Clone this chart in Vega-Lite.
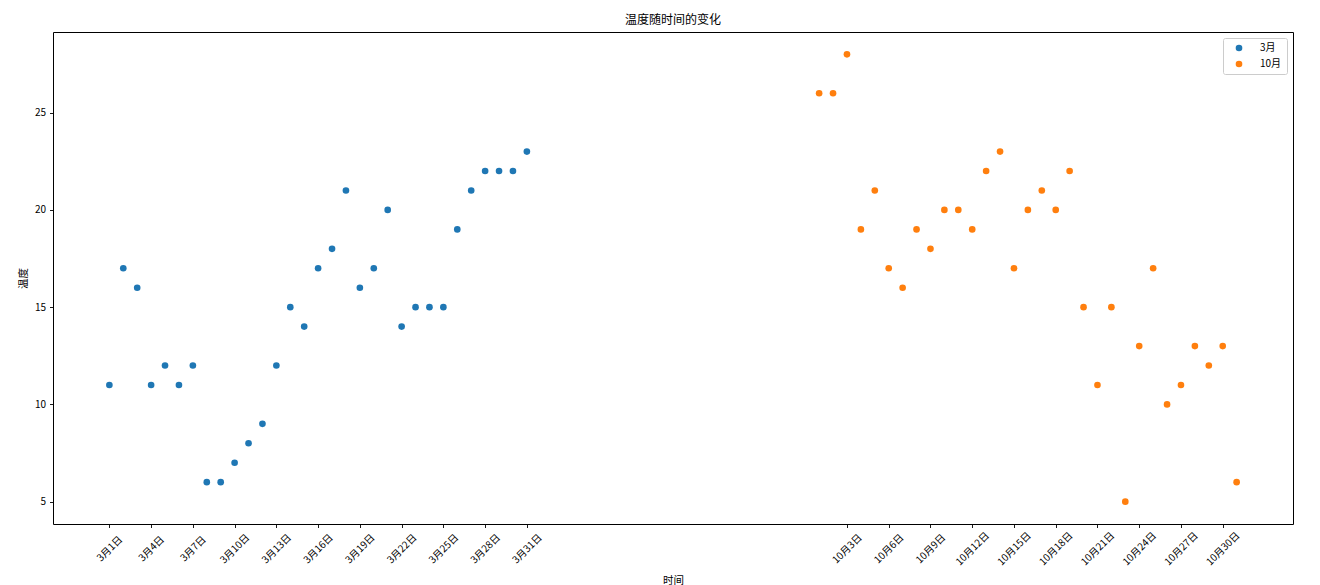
{
  "$schema": "https://vega.github.io/schema/vega-lite/v6.json",
  "autosize": {"type": "none"},
  "padding": {"left": 53, "top": 32, "right": 27, "bottom": 61},
  "width": 1240,
  "height": 492,
  "background": "white",
  "config": {
    "font": "Noto Sans CJK SC",
    "view": {"stroke": "#000000", "strokeWidth": 1},
    "axis": {
      "grid": false,
      "domain": false,
      "tickColor": "#000000",
      "tickSize": 3.5,
      "tickWidth": 0.9,
      "labelColor": "#000000",
      "labelFont": "Noto Sans CJK SC",
      "labelFontSize": 10,
      "titleColor": "#000000",
      "titleFont": "Noto Sans CJK SC",
      "titleFontSize": 10.5,
      "titleFontWeight": "normal"
    }
  },
  "title": {
    "text": "温度随时间的变化",
    "fontSize": 12,
    "fontWeight": "normal",
    "font": "Noto Sans CJK SC",
    "color": "#000000",
    "anchor": "middle",
    "offset": 5
  },
  "data": {
    "values": [
      {"x": 0, "temp": 11, "month": "3月"},
      {"x": 1, "temp": 17, "month": "3月"},
      {"x": 2, "temp": 16, "month": "3月"},
      {"x": 3, "temp": 11, "month": "3月"},
      {"x": 4, "temp": 12, "month": "3月"},
      {"x": 5, "temp": 11, "month": "3月"},
      {"x": 6, "temp": 12, "month": "3月"},
      {"x": 7, "temp": 6, "month": "3月"},
      {"x": 8, "temp": 6, "month": "3月"},
      {"x": 9, "temp": 7, "month": "3月"},
      {"x": 10, "temp": 8, "month": "3月"},
      {"x": 11, "temp": 9, "month": "3月"},
      {"x": 12, "temp": 12, "month": "3月"},
      {"x": 13, "temp": 15, "month": "3月"},
      {"x": 14, "temp": 14, "month": "3月"},
      {"x": 15, "temp": 17, "month": "3月"},
      {"x": 16, "temp": 18, "month": "3月"},
      {"x": 17, "temp": 21, "month": "3月"},
      {"x": 18, "temp": 16, "month": "3月"},
      {"x": 19, "temp": 17, "month": "3月"},
      {"x": 20, "temp": 20, "month": "3月"},
      {"x": 21, "temp": 14, "month": "3月"},
      {"x": 22, "temp": 15, "month": "3月"},
      {"x": 23, "temp": 15, "month": "3月"},
      {"x": 24, "temp": 15, "month": "3月"},
      {"x": 25, "temp": 19, "month": "3月"},
      {"x": 26, "temp": 21, "month": "3月"},
      {"x": 27, "temp": 22, "month": "3月"},
      {"x": 28, "temp": 22, "month": "3月"},
      {"x": 29, "temp": 22, "month": "3月"},
      {"x": 30, "temp": 23, "month": "3月"},
      {"x": 51, "temp": 26, "month": "10月"},
      {"x": 52, "temp": 26, "month": "10月"},
      {"x": 53, "temp": 28, "month": "10月"},
      {"x": 54, "temp": 19, "month": "10月"},
      {"x": 55, "temp": 21, "month": "10月"},
      {"x": 56, "temp": 17, "month": "10月"},
      {"x": 57, "temp": 16, "month": "10月"},
      {"x": 58, "temp": 19, "month": "10月"},
      {"x": 59, "temp": 18, "month": "10月"},
      {"x": 60, "temp": 20, "month": "10月"},
      {"x": 61, "temp": 20, "month": "10月"},
      {"x": 62, "temp": 19, "month": "10月"},
      {"x": 63, "temp": 22, "month": "10月"},
      {"x": 64, "temp": 23, "month": "10月"},
      {"x": 65, "temp": 17, "month": "10月"},
      {"x": 66, "temp": 20, "month": "10月"},
      {"x": 67, "temp": 21, "month": "10月"},
      {"x": 68, "temp": 20, "month": "10月"},
      {"x": 69, "temp": 22, "month": "10月"},
      {"x": 70, "temp": 15, "month": "10月"},
      {"x": 71, "temp": 11, "month": "10月"},
      {"x": 72, "temp": 15, "month": "10月"},
      {"x": 73, "temp": 5, "month": "10月"},
      {"x": 74, "temp": 13, "month": "10月"},
      {"x": 75, "temp": 17, "month": "10月"},
      {"x": 76, "temp": 10, "month": "10月"},
      {"x": 77, "temp": 11, "month": "10月"},
      {"x": 78, "temp": 13, "month": "10月"},
      {"x": 79, "temp": 12, "month": "10月"},
      {"x": 80, "temp": 13, "month": "10月"},
      {"x": 81, "temp": 6, "month": "10月"}
    ]
  },
  "mark": {"type": "point", "filled": true, "opacity": 1, "size": 44, "shape": "circle"},
  "encoding": {
    "x": {
      "field": "x",
      "type": "quantitative",
      "scale": {"domain": [-4.05, 85.05], "nice": false, "zero": false},
      "axis": {
        "title": "时间",
        "values": [0, 3, 6, 9, 12, 15, 18, 21, 24, 27, 30, 53, 56, 59, 62, 65, 68, 71, 74, 77, 80],
        "labelExpr": "datum.value <= 31 ? '3月' + (datum.value + 1) + '日' : '10月' + (datum.value - 50) + '日'",
        "labelAngle": -45,
        "labelAlign": "center",
        "labelBaseline": "middle",
        "labelPadding": 21,
        "labelFontSize": 10,
        "titleBaseline": "top",
        "titleY": 51
      }
    },
    "y": {
      "field": "temp",
      "type": "quantitative",
      "scale": {"domain": [3.85, 29.15], "nice": false, "zero": false},
      "axis": {
        "title": "温度",
        "values": [5, 10, 15, 20, 25],
        "labelPadding": 4,
        "titlePadding": 6
      }
    },
    "color": {
      "field": "month",
      "type": "nominal",
      "scale": {"domain": ["3月", "10月"], "range": ["#1f77b4", "#ff7f0e"]},
      "legend": {
        "title": null,
        "orient": "top-right",
        "offset": 6,
        "fillColor": "#ffffff",
        "strokeColor": "#cccccc",
        "cornerRadius": 2,
        "padding": 5,
        "rowPadding": 6,
        "symbolType": "circle",
        "symbolSize": 44,
        "symbolOffset": 6,
        "labelOffset": 16,
        "labelFontSize": 10,
        "labelColor": "#000000",
        "labelFont": "Noto Sans CJK SC"
      }
    }
  }
}
